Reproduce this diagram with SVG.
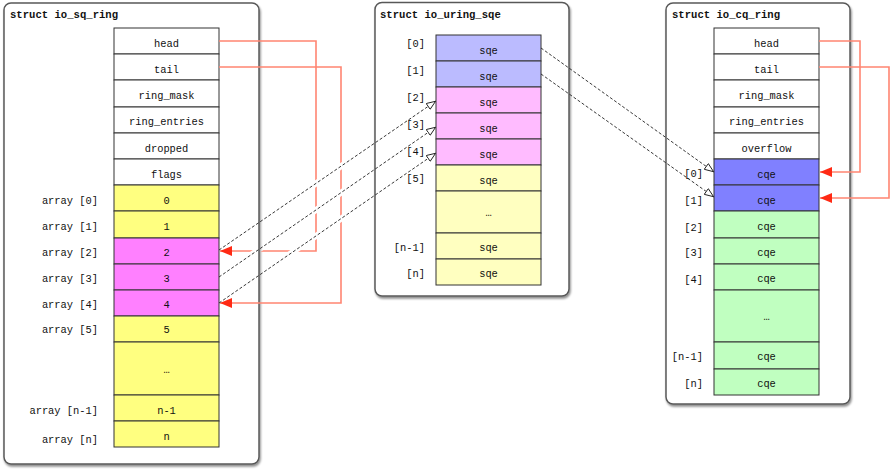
<svg xmlns="http://www.w3.org/2000/svg" width="890" height="470" viewBox="0 0 890 470">
<style>
.panel{fill:#fff;stroke:#595959;stroke-width:1.5;filter:url(#sh)}
.cell{stroke:#333;stroke-width:1}
.w{fill:#fff}.y{fill:#ffff80}.m{fill:#ff80ff}.lav{fill:#bbbbff}.pk{fill:#ffbbff}.ly{fill:#ffffc0}.b{fill:#8080ff}.g{fill:#c0ffc0}
text{font-family:"Liberation Mono","Courier New",monospace;font-size:10.4px;fill:#111}
.t{font-weight:bold;font-size:10.6px}
.c{text-anchor:middle}
.r{text-anchor:end}
.red{fill:none;stroke:#ff8572;stroke-width:1.6}
.dash{fill:none;stroke:#222;stroke-width:0.9;stroke-dasharray:3 2}
</style>
<defs>
<filter id="sh" x="-5%" y="-5%" width="115%" height="115%">
<feDropShadow dx="1" dy="2" stdDeviation="1.2" flood-color="#000" flood-opacity="0.45"/>
</filter>
<marker id="ra" viewBox="0 0 12 10" refX="12" refY="5" markerWidth="12" markerHeight="10" markerUnits="userSpaceOnUse" orient="auto">
<path d="M0,0 L12,5 L0,10 Z" fill="#ff2a14"/>
</marker>
<marker id="oa" viewBox="0 0 10 8" refX="10" refY="4" markerWidth="10" markerHeight="8" markerUnits="userSpaceOnUse" orient="auto">
<path d="M0.5,0.5 L9.5,4 L0.5,7.5 Z" fill="#fff" stroke="#222" stroke-width="0.9"/>
</marker>
<mask id="gap" maskUnits="userSpaceOnUse" x="0" y="0" width="890" height="470">
<rect x="0" y="0" width="890" height="470" fill="#fff"/>
<path d="M240,235.6 L380,139.5 M240,262.5 L380,165.7 M240,288.5 L380,191.7" stroke="#000" stroke-width="6"/>
</mask>
</defs>

<g id="io_sq_ring">
<rect class="panel" x="4" y="3" width="255" height="461" rx="7"/>
<text class="t" x="10" y="18">struct io_sq_ring</text>
<g id="sq_head"><rect class="cell w" x="114" y="28" width="105" height="26"/><text class="c" x="166.5" y="46.5">head</text></g>
<g id="sq_tail"><rect class="cell w" x="114" y="54" width="105" height="26"/><text class="c" x="166.5" y="72.5">tail</text></g>
<g id="sq_ring_mask"><rect class="cell w" x="114" y="80" width="105" height="27"/><text class="c" x="166.5" y="98.5">ring_mask</text></g>
<g id="sq_ring_entries"><rect class="cell w" x="114" y="107" width="105" height="26"/><text class="c" x="166.5" y="125">ring_entries</text></g>
<g id="sq_dropped"><rect class="cell w" x="114" y="133" width="105" height="26"/><text class="c" x="166.5" y="151.5">dropped</text></g>
<g id="sq_flags"><rect class="cell w" x="114" y="159" width="105" height="26"/><text class="c" x="166.5" y="177.5">flags</text></g>
<g id="sq_a0"><rect class="cell y" x="114" y="185" width="105" height="26"/><text class="c" x="166.5" y="203.5">0</text><text class="r" x="98" y="203.5">array [0]</text></g>
<g id="sq_a1"><rect class="cell y" x="114" y="211" width="105" height="27"/><text class="c" x="166.5" y="229.5">1</text><text class="r" x="98" y="229.5">array [1]</text></g>
<g id="sq_a2"><rect class="cell m" x="114" y="238" width="105" height="26"/><text class="c" x="166.5" y="255.5">2</text><text class="r" x="98" y="255.5">array [2]</text></g>
<g id="sq_a3"><rect class="cell m" x="114" y="264" width="105" height="26"/><text class="c" x="166.5" y="282">3</text><text class="r" x="98" y="282">array [3]</text></g>
<g id="sq_a4"><rect class="cell m" x="114" y="290" width="105" height="26"/><text class="c" x="166.5" y="307.5">4</text><text class="r" x="98" y="307.5">array [4]</text></g>
<g id="sq_a5"><rect class="cell y" x="114" y="316" width="105" height="26"/><text class="c" x="166.5" y="333">5</text><text class="r" x="98" y="333">array [5]</text></g>
<g id="sq_dots"><rect class="cell y" x="114" y="342" width="105" height="53"/><text class="c" x="166.5" y="373">…</text></g>
<g id="sq_an1"><rect class="cell y" x="114" y="395" width="105" height="26"/><text class="c" x="166.5" y="413.5">n-1</text><text class="r" x="98" y="413.5">array [n-1]</text></g>
<g id="sq_an"><rect class="cell y" x="114" y="421" width="105" height="26"/><text class="c" x="166.5" y="439.5">n</text><text class="r" x="98" y="442.5">array [n]</text></g>
</g>

<g id="io_uring_sqe">
<rect class="panel" x="375" y="2.5" width="194" height="293.5" rx="7"/>
<text class="t" x="380" y="18">struct io_uring_sqe</text>
<g id="sqe0"><rect class="cell lav" x="436" y="35" width="105" height="26"/><text class="c" x="488.5" y="53.5">sqe</text><text class="r" x="425" y="46.5">[0]</text></g>
<g id="sqe1"><rect class="cell lav" x="436" y="61" width="105" height="26"/><text class="c" x="488.5" y="79.5">sqe</text><text class="r" x="425" y="74">[1]</text></g>
<g id="sqe2"><rect class="cell pk" x="436" y="87" width="105" height="26"/><text class="c" x="488.5" y="105.5">sqe</text><text class="r" x="425" y="101">[2]</text></g>
<g id="sqe3"><rect class="cell pk" x="436" y="113" width="105" height="26"/><text class="c" x="488.5" y="131.5">sqe</text><text class="r" x="425" y="128">[3]</text></g>
<g id="sqe4"><rect class="cell pk" x="436" y="139" width="105" height="26"/><text class="c" x="488.5" y="157.5">sqe</text><text class="r" x="425" y="155">[4]</text></g>
<g id="sqe5"><rect class="cell ly" x="436" y="165" width="105" height="26"/><text class="c" x="488.5" y="183.5">sqe</text><text class="r" x="425" y="181.5">[5]</text></g>
<g id="sqe_dots"><rect class="cell ly" x="436" y="191" width="105" height="42"/><text class="c" x="488.5" y="216">…</text></g>
<g id="sqe_n1"><rect class="cell ly" x="436" y="233" width="105" height="26"/><text class="c" x="488.5" y="250.5">sqe</text><text class="r" x="425" y="250.5">[n-1]</text></g>
<g id="sqe_n"><rect class="cell ly" x="436" y="259" width="105" height="26"/><text class="c" x="488.5" y="276.5">sqe</text><text class="r" x="425" y="276.5">[n]</text></g>
</g>

<g id="io_cq_ring">
<rect class="panel" x="666" y="3" width="184" height="401" rx="7"/>
<text class="t" x="672" y="18">struct io_cq_ring</text>
<g id="cq_head"><rect class="cell w" x="714" y="28" width="105" height="26"/><text class="c" x="766.5" y="46.5">head</text></g>
<g id="cq_tail"><rect class="cell w" x="714" y="54" width="105" height="26"/><text class="c" x="766.5" y="72.5">tail</text></g>
<g id="cq_ring_mask"><rect class="cell w" x="714" y="80" width="105" height="27"/><text class="c" x="766.5" y="98.5">ring_mask</text></g>
<g id="cq_ring_entries"><rect class="cell w" x="714" y="107" width="105" height="26"/><text class="c" x="766.5" y="125">ring_entries</text></g>
<g id="cq_overflow"><rect class="cell w" x="714" y="133" width="105" height="26"/><text class="c" x="766.5" y="151.5">overflow</text></g>
<g id="cqe0"><rect class="cell b" x="714" y="159" width="105" height="26"/><text class="c" x="766.5" y="177.5">cqe</text><text class="r" x="703" y="176.5">[0]</text></g>
<g id="cqe1"><rect class="cell b" x="714" y="185" width="105" height="26"/><text class="c" x="766.5" y="203.5">cqe</text><text class="r" x="703" y="204">[1]</text></g>
<g id="cqe2"><rect class="cell g" x="714" y="211" width="105" height="27"/><text class="c" x="766.5" y="229.5">cqe</text><text class="r" x="703" y="230.5">[2]</text></g>
<g id="cqe3"><rect class="cell g" x="714" y="238" width="105" height="26"/><text class="c" x="766.5" y="255.5">cqe</text><text class="r" x="703" y="255.5">[3]</text></g>
<g id="cqe4"><rect class="cell g" x="714" y="264" width="105" height="26"/><text class="c" x="766.5" y="282">cqe</text><text class="r" x="703" y="282.5">[4]</text></g>
<g id="cqe_dots"><rect class="cell g" x="714" y="290" width="105" height="52"/><text class="c" x="766.5" y="320">…</text></g>
<g id="cqe_n1"><rect class="cell g" x="714" y="342" width="105" height="27"/><text class="c" x="766.5" y="360">cqe</text><text class="r" x="703" y="360">[n-1]</text></g>
<g id="cqe_n"><rect class="cell g" x="714" y="369" width="105" height="26"/><text class="c" x="766.5" y="387">cqe</text><text class="r" x="703" y="387">[n]</text></g>
</g>

<g id="connectors">
<g mask="url(#gap)">
<path class="red" d="M219,41 H316 V251 H220" marker-end="url(#ra)"/>
<path class="red" d="M219,67 H341 V303 H220" marker-end="url(#ra)"/>
</g>
<path class="red" d="M819,41 H860 V172 H820" marker-end="url(#ra)"/>
<path class="red" d="M819,67 H889 V198 H820" marker-end="url(#ra)"/>
<path class="dash" d="M219,250 L436,101" marker-end="url(#oa)"/>
<path class="dash" d="M219,277 L436,127" marker-end="url(#oa)"/>
<path class="dash" d="M219,303 L436,153" marker-end="url(#oa)"/>
<path class="dash" d="M541,48 L714,172" marker-end="url(#oa)"/>
<path class="dash" d="M541,74 L714,197" marker-end="url(#oa)"/>
</g>
</svg>
